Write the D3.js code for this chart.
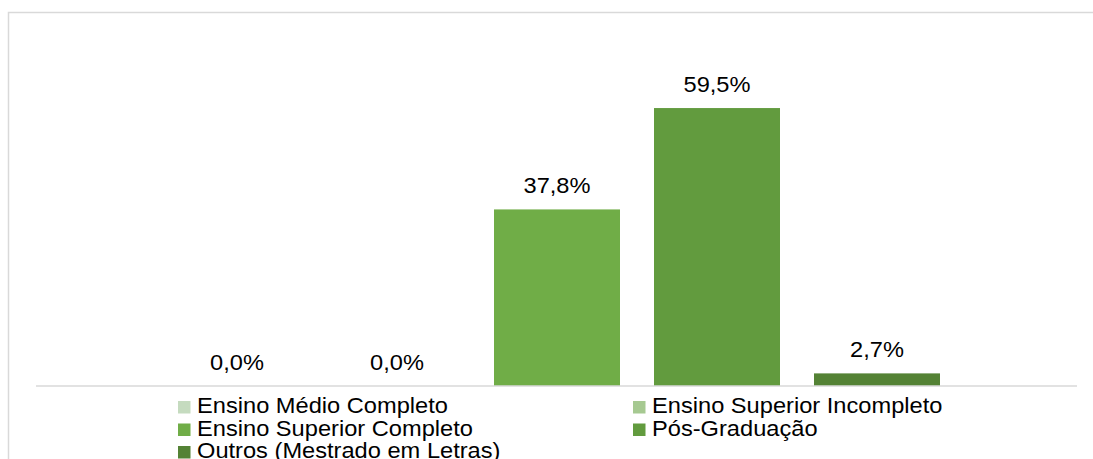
<!DOCTYPE html>
<html>
<head>
<meta charset="utf-8">
<script src="https://cdn.jsdelivr.net/npm/d3@7"></script>
<style>
  body { margin: 0; background: #fff; }
  svg { display: block; font-family: 'Liberation Sans', Arial, sans-serif; }
</style>
</head>
<body>
<svg id="chart"></svg>
<script>
const categories = [
  'Ensino Médio Completo',
  'Ensino Superior Incompleto',
  'Ensino Superior Completo',
  'Pós-Graduação',
  'Outros (Mestrado em Letras)'
]
const values = [0.0, 0.0, 37.8, 59.5, 2.7]
const colors = ['#c5dbbf', '#a6c991', '#70ad47', '#629b3e', '#548235']

const width = 1093
const height = 459
const stretch = 1.075 // text in the original is slightly wide
const svg = d3.select('#chart').attr('width', width).attr('height', height)

// outer frame (right side is cut off in the original)
svg.append('rect')
  .attr('x', 8.5).attr('y', 12.5)
  .attr('width', 1100).attr('height', 460)
  .attr('fill', 'none')
  .attr('stroke', '#d9d9d9')
  .attr('stroke-width', 1.5)

const xScale = d3.scaleBand()
  .domain(categories)
  .range([157, 957])
  .paddingInner(0.2125)
  .paddingOuter(0.10625)

const yScale = d3.scaleLinear().domain([0, 70]).range([386, 59])

const fmt = (v) => v.toFixed(1).replace('.', ',') + '%'

svg.append('g')
  .selectAll('rect')
  .data(categories)
  .enter()
  .append('rect')
  .attr('x', (d) => xScale(d))
  .attr('width', xScale.bandwidth())
  .attr('y', (d, i) => yScale(values[i]))
  .attr('height', (d, i) => yScale(0) - yScale(values[i]))
  .attr('fill', (d, i) => colors[i])

// baseline
svg.append('line')
  .attr('x1', 36).attr('x2', 1077)
  .attr('y1', yScale(0)).attr('y2', yScale(0))
  .attr('stroke', '#d9d9d9')
  .attr('stroke-width', 1.5)

svg.append('g')
  .selectAll('text')
  .data(categories)
  .enter()
  .append('text')
  .attr('transform', (d, i) =>
    `translate(${xScale(d) + xScale.bandwidth() / 2},${yScale(values[i]) - 16}) scale(${stretch},1)`)
  .attr('text-anchor', 'middle')
  .attr('font-size', '22px')
  .attr('fill', '#000')
  .text((d, i) => fmt(values[i]))

// legend, two columns
const legendCols = [178, 633]
const legendY = 413
const legend = svg.append('g')
  .selectAll('g')
  .data(categories)
  .enter()
  .append('g')
  .attr('transform', (d, i) =>
    `translate(${legendCols[i % 2]},${legendY + Math.floor(i / 2) * 22.5})`)

legend.append('rect')
  .attr('x', 0).attr('y', -12)
  .attr('width', 12.5).attr('height', 12.5)
  .attr('fill', (d, i) => colors[i])

legend.append('text')
  .attr('transform', `translate(19,0) scale(${stretch},1)`)
  .attr('font-size', '22px')
  .attr('fill', '#000')
  .text((d) => d)
</script>
</body>
</html>
